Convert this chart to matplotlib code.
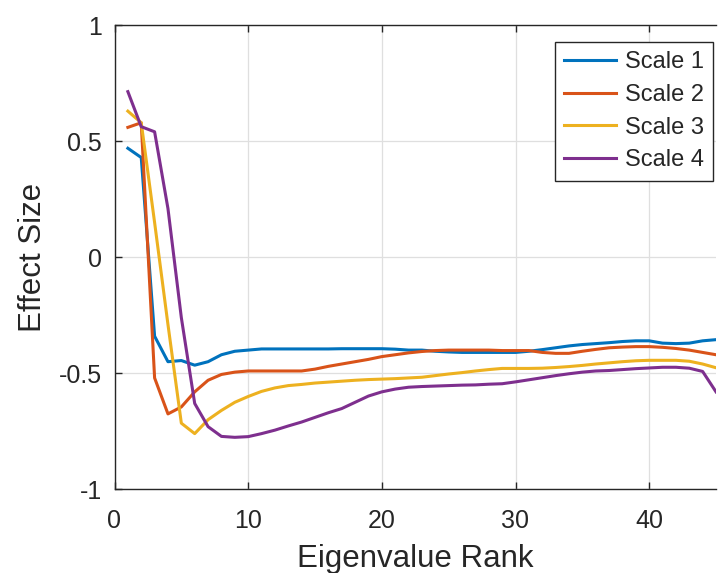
import numpy as np
import matplotlib
matplotlib.use('Agg')
from matplotlib import pyplot as plt

plt.rcParams['font.family'] = ['Liberation Sans', 'DejaVu Sans']

rank = list(range(1, 46))

scale1 = [0.47, 0.43, -0.34, -0.45, -0.445, -0.465, -0.45, -0.42, -0.405, -0.40,
          -0.395, -0.395, -0.395, -0.395, -0.395, -0.395, -0.394, -0.394, -0.394, -0.394,
          -0.396, -0.40, -0.40, -0.405, -0.408, -0.41, -0.41, -0.41, -0.41, -0.41,
          -0.405, -0.398, -0.39, -0.382, -0.376, -0.372, -0.368, -0.363, -0.36, -0.36,
          -0.37, -0.372, -0.37, -0.36, -0.355]
scale2 = [0.56, 0.58, -0.52, -0.675, -0.645, -0.58, -0.53, -0.505, -0.495, -0.49,
          -0.49, -0.49, -0.49, -0.49, -0.482, -0.47, -0.46, -0.45, -0.44, -0.428,
          -0.42, -0.412, -0.406, -0.402, -0.40, -0.40, -0.40, -0.40, -0.402, -0.402,
          -0.402, -0.41, -0.414, -0.414, -0.405, -0.397, -0.39, -0.387, -0.385, -0.385,
          -0.388, -0.393, -0.40, -0.41, -0.42]
scale3 = [0.63, 0.58, 0.15, -0.29, -0.715, -0.76, -0.70, -0.66, -0.625, -0.60,
          -0.578, -0.563, -0.553, -0.548, -0.542, -0.538, -0.534, -0.53, -0.527, -0.525,
          -0.523, -0.52, -0.517, -0.51, -0.503, -0.497, -0.49, -0.484, -0.479, -0.479,
          -0.479, -0.478, -0.475, -0.471, -0.466, -0.46, -0.455, -0.45, -0.446, -0.444,
          -0.444, -0.444, -0.448, -0.46, -0.476]
scale4 = [0.714, 0.563, 0.541, 0.21, -0.26, -0.63, -0.73, -0.772, -0.776, -0.773,
          -0.76, -0.745, -0.727, -0.71, -0.69, -0.67, -0.652, -0.625, -0.598, -0.58,
          -0.568, -0.56, -0.557, -0.555, -0.553, -0.551, -0.55, -0.547, -0.545, -0.537,
          -0.528, -0.519, -0.51, -0.502, -0.495, -0.49, -0.488, -0.484, -0.48, -0.477,
          -0.474, -0.474, -0.478, -0.492, -0.58]

series = [scale1, scale2, scale3, scale4]
labels = ['Scale 1', 'Scale 2', 'Scale 3', 'Scale 4']
colors = ['#0072BD', '#D95319', '#EDB120', '#7E2F8E']

fig = plt.figure(figsize=(7.18, 5.73), dpi=100)
ax = fig.add_axes([114.5/718, 1-489.3/573, (716-114.5)/718, (489.3-25.3)/573])

for y, lab, c in zip(series, labels, colors):
    ax.plot(rank, y, color=c, lw=2.2, label=lab)

ax.set_xlim(0, 45)
ax.set_ylim(-1, 1)
ax.set_xticks([0, 10, 20, 30, 40])
ax.set_yticks([-1, -0.5, 0, 0.5, 1])
ax.set_yticklabels(['-1', '-0.5', '0', '0.5', '1'])
ax.grid(True, color='#dfdfdf', lw=0.9)
ax.set_axisbelow(True)

for s in ['left', 'bottom', 'top']:
    ax.spines[s].set_color('#262626')
    ax.spines[s].set_linewidth(1.0)
ax.spines['right'].set_visible(False)
ax.tick_params(direction='in', length=5, width=1, color='#262626',
               labelsize=18, labelcolor='#262626', top=True)
ax.tick_params(axis='y', pad=9)
ax.tick_params(axis='x', pad=14)

ax.set_xlabel('Eigenvalue Rank', fontsize=22.5, color='#262626', labelpad=8)
ax.set_ylabel('Effect Size', fontsize=22.5, color='#262626', labelpad=8)

leg = ax.legend(loc='upper right', bbox_to_anchor=(713/718, 1-42/573),
                bbox_transform=fig.transFigure, borderaxespad=0,
                fontsize=17, fancybox=False, framealpha=1,
                handlelength=2.2, handletextpad=0.35, labelspacing=0.45,
                borderpad=0.4)
leg.get_frame().set_edgecolor('#262626')
leg.get_frame().set_linewidth(1.0)
for t in leg.get_texts():
    t.set_color('#262626')

fig.savefig('out.png', dpi=100)
